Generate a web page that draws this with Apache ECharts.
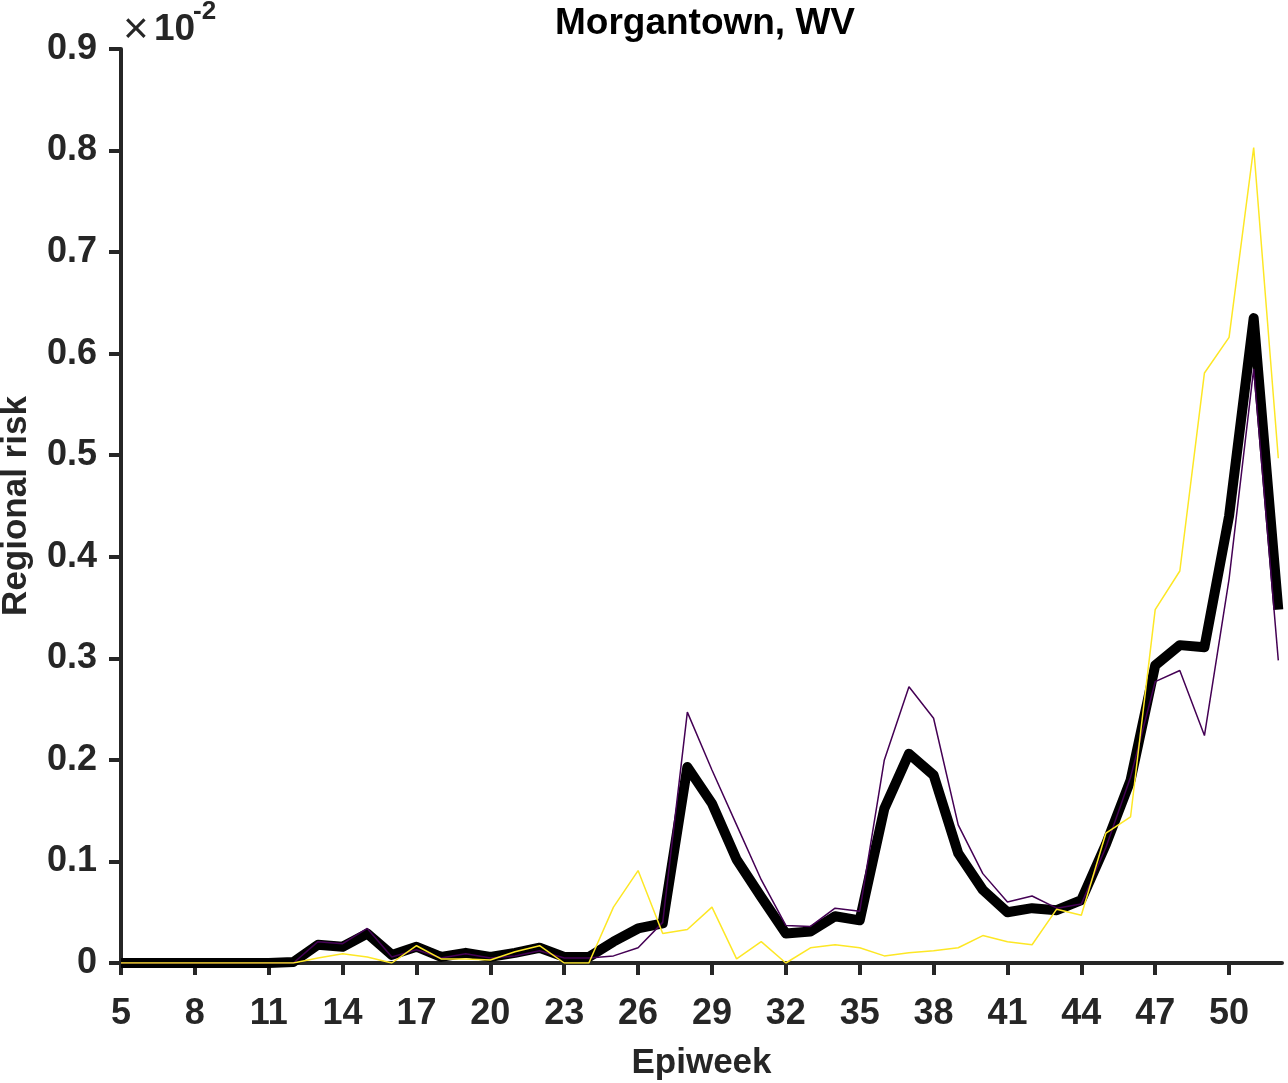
<!DOCTYPE html>
<html>
<head>
<meta charset="utf-8">
<script src="https://cdn.jsdelivr.net/npm/echarts@6/dist/echarts.min.js"></script>
<style>
html,body{margin:0;padding:0;background:#fff;}
#chart{width:1288px;height:1083px;}
</style>
</head>
<body>
<div id="chart"></div>
<script>
// Values shown in units of 1e-2 (axis multiplier "×10^-2")
const weeks = [5,6,7,8,9,10,11,12,13,14,15,16,17,18,19,20,21,22,23,24,25,26,27,28,29,30,31,32,33,34,35,36,37,38,39,40,41,42,43,44,45,46,47,48,49,50,51,52];
const meanRisk = [0,0,0,0,0,0,0,0.001,0.018,0.016,0.029,0.008,0.016,0.006,0.010,0.006,0.010,0.015,0.006,0.006,0.021,0.034,0.039,0.193,0.157,0.102,0.065,0.029,0.031,0.046,0.042,0.152,0.206,0.185,0.108,0.072,0.050,0.054,0.052,0.062,0.117,0.180,0.293,0.313,0.311,0.440,0.635,0.348];
const purpleRisk = [0,0,0,0,0,0,0,0,0.021,0.019,0.034,0.006,0.013,0.005,0.009,0.005,0.007,0.012,0.005,0.005,0.007,0.015,0.040,0.247,0.190,0.136,0.082,0.037,0.036,0.054,0.051,0.200,0.272,0.241,0.136,0.088,0.060,0.066,0.054,0.058,0.114,0.183,0.277,0.288,0.224,0.378,0.585,0.298];
const yellowRisk = [0,0,0,0,0,0,0,0,0.005,0.009,0.006,0.000,0.017,0.004,0.004,0.003,0.011,0.017,0.000,0.000,0.055,0.091,0.029,0.033,0.055,0.004,0.021,0.000,0.015,0.018,0.015,0.007,0.010,0.012,0.015,0.027,0.021,0.018,0.053,0.047,0.128,0.144,0.348,0.386,0.581,0.616,0.803,0.497];
const xTicks = [5,8,11,14,17,20,23,26,29,32,35,38,41,44,47,50];
const yTicks = [0,0.1,0.2,0.3,0.4,0.5,0.6,0.7,0.8,0.9];

const FONT = '"Liberation Sans", Arial, Helvetica, sans-serif';
const AX = '#262626';
const pairs = arr => weeks.map((w, i) => [w, arr[i]]);

const chart = echarts.init(document.getElementById('chart'), null, {renderer: 'canvas'});
chart.setOption({
  animation: false,
  backgroundColor: '#fff',
  title: {
    text: 'Morgantown, WV',
    left: 700, top: 0, textAlign: 'center',
    textStyle: {fontFamily: FONT, fontWeight: 'bold', fontSize: 37, color: '#000'}
  },
  grid: {left: 121, right: 6, top: 49, bottom: 120, containLabel: false, outerBoundsMode: 'none'},
  xAxis: {
    type: 'value', min: 5, max: 52.15,
    name: 'Epiweek', nameLocation: 'middle', nameGap: 83,
    nameTextStyle: {fontFamily: FONT, fontWeight: 'bold', fontSize: 35, color: AX},
    axisLine: {lineStyle: {color: AX, width: 4}},
    axisTick: {show: true, inside: false, length: 12, lineStyle: {color: AX, width: 4}, customValues: xTicks},
    axisLabel: {customValues: xTicks, margin: 33, fontFamily: FONT, fontWeight: 'bold', fontSize: 36, color: AX},
    splitLine: {show: false}
  },
  yAxis: {
    type: 'value', min: 0, max: 0.9,
    name: 'Regional risk', nameLocation: 'middle', nameGap: 87, nameRotate: 90,
    nameTextStyle: {fontFamily: FONT, fontWeight: 'bold', fontSize: 35, color: AX},
    axisLine: {show: true, lineStyle: {color: AX, width: 4}},
    axisTick: {show: true, inside: false, length: 12, lineStyle: {color: AX, width: 4}, customValues: yTicks},
    axisLabel: {customValues: yTicks, margin: 24, fontFamily: FONT, fontWeight: 'bold', fontSize: 36, color: AX,
      formatter: v => String(+(+v).toFixed(1))},
    splitLine: {show: false}
  },
  graphic: [
    {type: 'text', left: 123, top: 9, style: {text: '×', font: 'normal 44px ' + FONT, fill: AX}},
    {type: 'text', left: 154, top: 11, style: {text: '10', font: 'bold 37px ' + FONT, fill: AX}},
    {type: 'text', left: 193, top: -1, style: {text: '-2', font: 'bold 26px ' + FONT, fill: AX}}
  ],
  series: [
    {type: 'line', data: pairs(meanRisk), symbol: 'none', z: 3,
     lineStyle: {color: '#000', width: 10, join: 'round', cap: 'butt'}},
    {type: 'line', data: pairs(purpleRisk), symbol: 'none', z: 4,
     lineStyle: {color: '#440154', width: 1.5}},
    {type: 'line', data: pairs(yellowRisk), symbol: 'none', z: 5,
     lineStyle: {color: '#FDE725', width: 1.5}}
  ]
});
</script>
</body>
</html>
